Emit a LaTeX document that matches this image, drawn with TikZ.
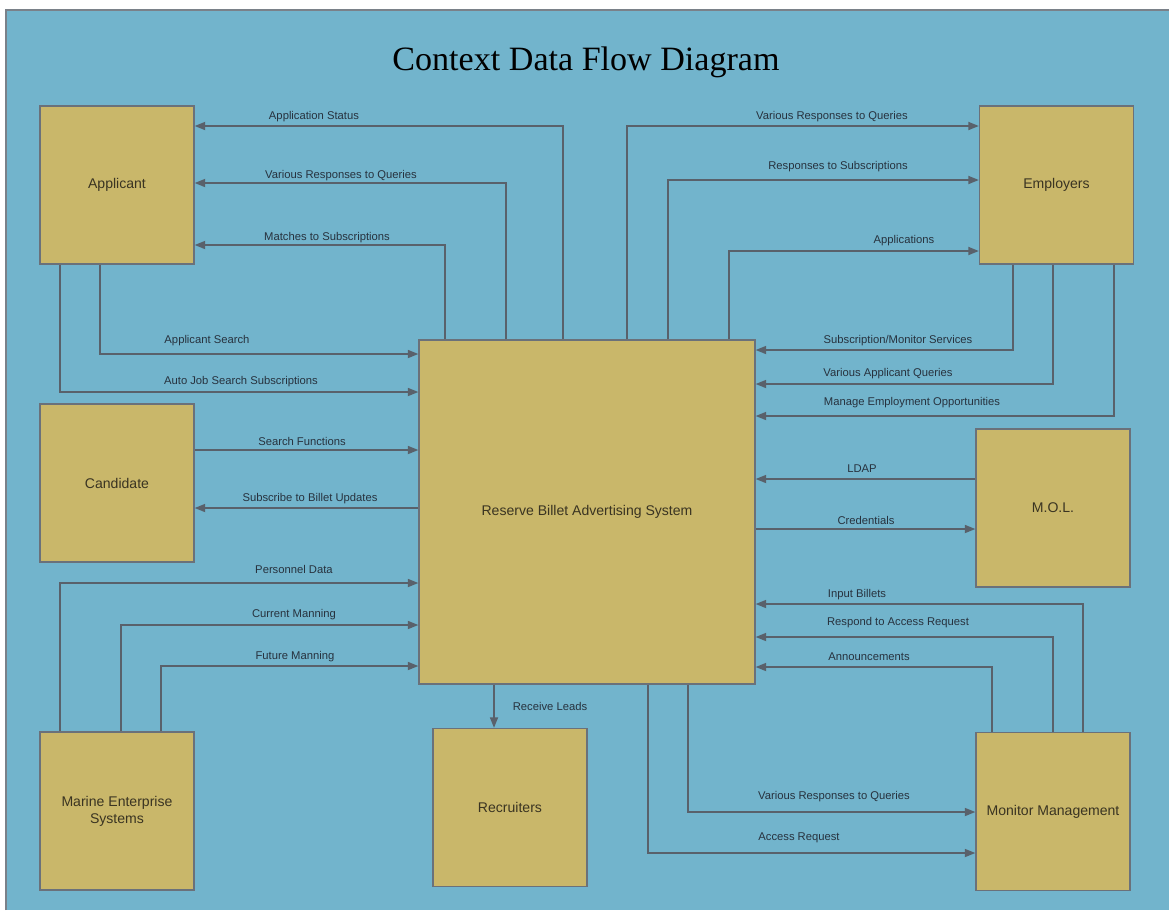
\documentclass[tikz,border=0pt]{standalone}
\usepackage{fontspec}
\setmainfont{Liberation Sans}
\newfontfamily\titlefont{Liberation Serif}
\usetikzlibrary{arrows.meta}
\definecolor{bgblue}{HTML}{72B4CC}
\definecolor{boxtan}{HTML}{C9B76A}
\definecolor{linegray}{HTML}{59616B}
\definecolor{lbltext}{HTML}{27323E}
\definecolor{boxtext}{HTML}{3A3422}

\begin{document}
\begin{tikzpicture}[
      x=0.02cm, y=-0.02cm,
      every node/.style={inner sep=0pt},
      entity/.style={draw=linegray!90, line width=0.8pt, fill=boxtan,
        minimum width=3.08cm, minimum height=3.16cm, align=center,
        text=boxtext, font=\fontsize{8}{9.6}\selectfont},
      system/.style={entity, minimum width=6.72cm, minimum height=6.88cm},
      flow/.style={draw=linegray, line width=0.85pt,
        -{Triangle[length=6pt,width=4.6pt]}},
      lbl/.style={text=lbltext, font=\fontsize{6.4}{7.7}\selectfont}
    ]
      \useasboundingbox (0,0) rectangle (1169,910);
      \fill[white] (0,0) rectangle (1169,910);
      \fill[bgblue] (6,10) rectangle (1169,910);
      \draw[linegray!80, line width=0.6pt] (6,910) -- (6,10) -- (1169,10);

      \node[font=\titlefont\fontsize{19.4}{23}\selectfont, anchor=base] (title) at (586,70) {Context Data Flow Diagram};

      % Draw the entities and the system
      \node[system] (sys) at (587,512) {Reserve Billet Advertising System};
      \node[entity] (app) at (117,185) {Applicant};
      \node[entity] (cand) at (117,483) {Candidate};
      \node[entity] (mes) at (117,811) {Marine Enterprise\\Systems};
      \node[entity] (rec) at (510,807.5) {Recruiters};
      \node[entity] (emp) at (1056.5,185) {Employers};
      \node[entity] (mol) at (1053,508) {M.O.L.};
      \node[entity] (mon) at (1053,811.5) {Monitor Management};

      % Applicant and Candidate
      \draw[flow] (sys.north -| 563,0) |- (app.east |- 0,126) node[lbl] (l1) at (314,117) {Application Status};
      \draw[flow] (sys.north -| 506,0) |- (app.east |- 0,183) node[lbl] (l2) at (341,176) {Various Responses to Queries};
      \draw[flow] (sys.north -| 445,0) |- (app.east |- 0,245) node[lbl] (l3) at (327,238) {Matches to Subscriptions};
      \draw[flow] (app.south -| 100,0) |- (sys.west |- 0,354) node[lbl] (l4) at (207,341) {Applicant Search};
      \draw[flow] (app.south -| 60,0) |- (sys.west |- 0,392) node[lbl] (l5) at (241,382) {Auto Job Search Subscriptions};
      \draw[flow] (cand.east |- 0,450) -- (sys.west |- 0,450) node[lbl] (l6) at (302,441) {Search Functions};
      \draw[flow] (sys.west |- 0,508) -- (cand.east |- 0,508) node[lbl] (l7) at (310,499) {Subscribe to Billet Updates};

      % Marine Enterprise Systems
      \draw[flow] (mes.north -| 60,0) |- (sys.west |- 0,583) node[lbl] (l8) at (294,569) {Personnel Data};
      \draw[flow] (mes.north -| 121,0) |- (sys.west |- 0,625) node[lbl] (l9) at (294,615) {Current Manning};
      \draw[flow] (mes.north -| 161,0) |- (sys.west |- 0,666) node[lbl] (l10) at (295,657) {Future Manning};

      % Employers
      \draw[flow] (sys.north -| 627,0) |- (emp.west |- 0,126) node[lbl] (l11) at (832,117) {Various Responses to Queries};
      \draw[flow] (sys.north -| 668,0) |- (emp.west |- 0,180) node[lbl] (l12) at (838,167) {Responses to Subscriptions};
      \draw[flow] (sys.north -| 729,0) |- (emp.west |- 0,251) node[lbl] (l13) at (904,241) {Applications};
      \draw[flow] (emp.south -| 1013,0) |- (sys.east |- 0,350) node[lbl] (l14) at (898,341) {Subscription/Monitor Services};
      \draw[flow] (emp.south -| 1053,0) |- (sys.east |- 0,384) node[lbl] (l15) at (888,374) {Various Applicant Queries};
      \draw[flow] (emp.south -| 1114,0) |- (sys.east |- 0,416) node[lbl] (l16) at (912,403) {Manage Employment Opportunities};

      % M.O.L.
      \draw[flow] (mol.west |- 0,479) -- (sys.east |- 0,479) node[lbl] (l17) at (862,469) {LDAP};
      \draw[flow] (sys.east |- 0,529) -- (mol.west |- 0,529) node[lbl] (l18) at (866,520) {Credentials};

      % Monitor Management
      \draw[flow] (mon.north -| 1083,0) |- (sys.east |- 0,604) node[lbl] (l19) at (857,595) {Input Billets};
      \draw[flow] (mon.north -| 1053,0) |- (sys.east |- 0,637) node[lbl] (l20) at (898,623) {Respond to Access Request};
      \draw[flow] (mon.north -| 992,0) |- (sys.east |- 0,667) node[lbl] (l21) at (869,657) {Announcements};
      \draw[flow] (sys.south -| 688,0) |- (mon.west |- 0,812) node[lbl] (l23) at (834,797) {Various Responses to Queries};
      \draw[flow] (sys.south -| 648,0) |- (mon.west |- 0,853) node[lbl] (l24) at (799,838) {Access Request};

      % Recruiters
      \draw[flow] (sys.south -| 494,0) -- (rec.north -| 494,0) node[lbl] (l22) at (550,706) {Receive Leads};
\end{tikzpicture}
\end{document}
